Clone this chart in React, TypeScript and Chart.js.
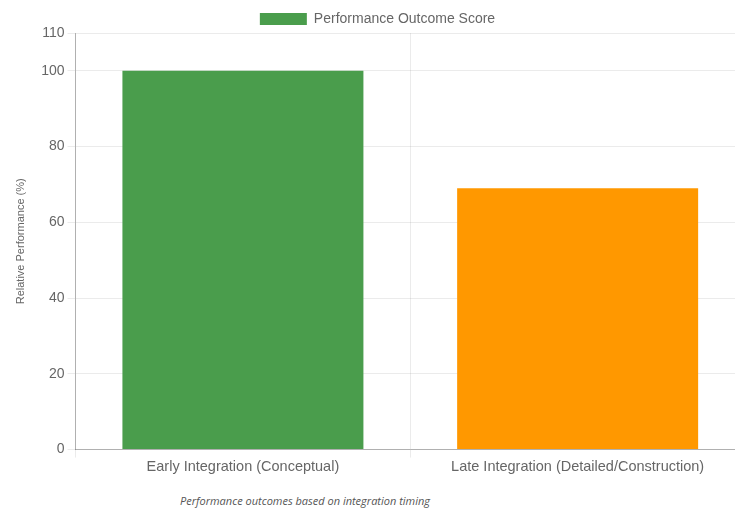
import React, { useEffect, useRef } from "react";
import { Chart, registerables } from "chart.js";

Chart.register(...registerables);

const categories = ["Early Integration (Conceptual)", "Late Integration (Detailed/Construction)"];
const seriesLabel = "Performance Outcome Score";
const scores = [100, 69];
const barColors = ["#4a9d4c", "#ff9800"];
const yTitle = "Relative Performance (%)";
const caption = "Performance outcomes based on integration timing";

// Trims the space reserved under the legend so the plot starts closer to it.
const tightLegend = {
  id: "tightLegend",
  beforeInit(chart: any) {
    const legend = chart.legend;
    if (!legend) return;
    const originalFit = legend.fit;
    legend.fit = function () {
      originalFit.call(this);
      this.height -= 3;
    };
  },
};

export default function App() {
  const canvasRef = useRef<HTMLCanvasElement | null>(null);

  useEffect(() => {
    document.body.style.overflow = "hidden";
    const ctx = canvasRef.current;
    if (!ctx) return;
    const font = { family: "'Liberation Sans', Arial, sans-serif", size: 14 };
    const chart = new Chart(ctx, {
      type: "bar",
      data: {
        labels: categories,
        datasets: [
          {
            label: seriesLabel,
            data: scores,
            backgroundColor: barColors,
            borderWidth: 0,
          },
        ],
      },
      options: {
        responsive: false,
        animation: false,
        layout: { padding: { left: 4, top: 0, right: 0, bottom: 0 } },
        plugins: {
          legend: {
            display: true,
            position: "top",
            labels: {
              font,
              color: "#666",
              padding: 7,
              boxWidth: 47,
              boxHeight: 12,
              generateLabels: () => [
                {
                  text: seriesLabel,
                  fillStyle: barColors[0],
                  strokeStyle: barColors[0],
                  lineWidth: 0,
                  hidden: false,
                  datasetIndex: 0,
                  fontColor: "#666",
                },
              ],
            },
          },
          tooltip: { enabled: false },
        },
        scales: {
          x: {
            grid: { color: "rgba(0,0,0,0.08)" },
            border: { color: "rgba(0,0,0,0.25)" },
            ticks: { font: { ...font, size: 14.5 }, color: "#666", padding: 1 },
          },
          y: {
            min: 0,
            max: 110,
            ticks: { stepSize: 20, font, color: "#666" },
            grid: { color: "rgba(0,0,0,0.08)" },
            border: { color: "rgba(0,0,0,0.25)" },
            title: {
              display: true,
              text: yTitle,
              font: { ...font, size: 11 },
              color: "#666",
              padding: { top: 4, bottom: 11 },
            },
          },
        },
      },
      plugins: [tightLegend],
    });
    return () => chart.destroy();
  }, []);

  return (
    <div style={{ position: "fixed", left: 0, top: 0, width: 735, height: 512, overflow: "hidden", background: "#fff" }}>
      <canvas ref={canvasRef} width={739} height={472} style={{ position: "absolute", left: 6, top: 5, display: "block" }} />
      <div
        style={{
          position: "absolute",
          top: 493,
          left: 105,
          width: 400,
          textAlign: "center",
          fontFamily: "'Open Sans', sans-serif",
          fontStyle: "italic",
          fontSize: 11,
          color: "#555",
          lineHeight: "16px",
        }}
      >
        {caption}
      </div>
    </div>
  );
}
